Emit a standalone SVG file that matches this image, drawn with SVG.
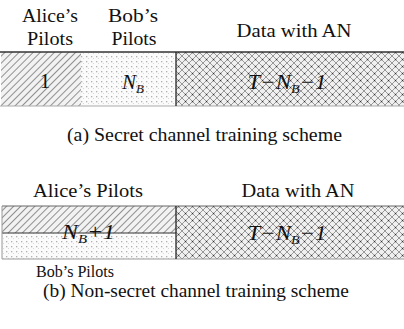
<svg xmlns="http://www.w3.org/2000/svg" width="404" height="329" viewBox="0 0 404 329">
<defs>
<pattern id="hatch" width="5" height="5" patternUnits="userSpaceOnUse" patternTransform="rotate(45)">
<rect width="5" height="5" fill="#f2f2f2"/>
<line x1="0" y1="0" x2="0" y2="5" stroke="#666" stroke-width="1.4"/>
</pattern>
<pattern id="dots" width="5" height="5" patternUnits="userSpaceOnUse">
<rect width="5" height="5" fill="#fbfbfb"/>
<rect x="1" y="1" width="1.3" height="1.3" fill="#b0b0b0"/>
<rect x="3" y="3" width="1" height="1" fill="#d8d8d8"/>
</pattern>
<pattern id="cross" width="7" height="7" patternUnits="userSpaceOnUse">
<rect width="7" height="7" fill="#f0f0f0"/>
<path d="M0,0 L7,7 M7,0 L0,7" stroke="#999" stroke-width="1"/>
<rect x="2.9" y="2.9" width="1.3" height="1.3" fill="#333"/>
</pattern>
<style>
text{font-family:"Liberation Serif","Times New Roman",serif;fill:#111}
.lbl{font-size:19px;text-anchor:middle}
.cap{font-size:18px;text-anchor:middle}
.m{font-size:21px;font-style:italic;text-anchor:middle}
</style>
</defs>
<g id="labels-a">
<text class="lbl" x="50" y="22" textLength="56" lengthAdjust="spacingAndGlyphs">Alice’s</text>
<text class="lbl" x="50" y="45" textLength="46" lengthAdjust="spacingAndGlyphs">Pilots</text>
<text class="lbl" x="133" y="22" textLength="50" lengthAdjust="spacingAndGlyphs">Bob’s</text>
<text class="lbl" x="134" y="45" textLength="45" lengthAdjust="spacingAndGlyphs">Pilots</text>
<text class="lbl" x="294" y="37" textLength="115" lengthAdjust="spacingAndGlyphs">Data with AN</text>
</g>
<g id="a-alice">
<rect x="1" y="52" width="80" height="54" fill="url(#hatch)"/>
<text class="m" x="45" y="88" style="font-style:normal">1</text>
</g>
<g id="a-bob">
<rect x="81" y="52" width="95" height="54" fill="url(#dots)"/>
<text class="m" x="133" y="89">N<tspan font-size="13" dy="4">B</tspan></text>
</g>
<g id="a-data">
<rect x="176" y="52" width="228" height="54" fill="url(#cross)"/>
<text class="m" x="287" y="89" textLength="79" lengthAdjust="spacingAndGlyphs">T−N<tspan font-size="13" dy="4">B</tspan><tspan dy="-4">−1</tspan></text>
</g>
<g id="a-frame">
<line x1="0" y1="52" x2="404" y2="52" stroke="#333" stroke-width="1.6"/>
<line x1="0" y1="106" x2="404" y2="106" stroke="#aaa" stroke-width="1"/>
<line x1="176" y1="52" x2="176" y2="106" stroke="#222" stroke-width="1.3"/>
</g>
<text class="cap" x="204.5" y="141" textLength="275" lengthAdjust="spacingAndGlyphs">(a) Secret channel training scheme</text>
<g id="labels-b">
<text class="lbl" x="88" y="197" textLength="110" lengthAdjust="spacingAndGlyphs">Alice’s Pilots</text>
<text class="lbl" x="298" y="197" textLength="113" lengthAdjust="spacingAndGlyphs">Data with AN</text>
<text class="lbl" x="75" y="277" style="font-size:17px" textLength="78" lengthAdjust="spacingAndGlyphs">Bob’s Pilots</text>
</g>
<g id="b-pilots">
<rect x="2" y="206" width="174" height="27" fill="url(#hatch)"/>
<rect x="2" y="233" width="174" height="26" fill="url(#dots)"/>
<line x1="2" y1="233" x2="176" y2="233" stroke="#333" stroke-width="1"/>
<text class="m" x="88.5" y="239" textLength="53" lengthAdjust="spacingAndGlyphs">N<tspan font-size="13" dy="4">B</tspan><tspan dy="-4">+1</tspan></text>
</g>
<g id="b-data">
<rect x="176" y="206" width="228" height="53" fill="url(#cross)"/>
<text class="m" x="287" y="240" textLength="79" lengthAdjust="spacingAndGlyphs">T−N<tspan font-size="13" dy="4">B</tspan><tspan dy="-4">−1</tspan></text>
</g>
<g id="b-frame">
<line x1="2" y1="206" x2="404" y2="206" stroke="#666" stroke-width="1"/>
<line x1="2" y1="259" x2="404" y2="259" stroke="#999" stroke-width="1"/>
<line x1="2" y1="206" x2="2" y2="259" stroke="#999" stroke-width="1"/>
<line x1="176" y1="206" x2="176" y2="259" stroke="#222" stroke-width="1.3"/>
</g>
<text class="cap" x="196" y="297" textLength="306" lengthAdjust="spacingAndGlyphs">(b) Non-secret channel training scheme</text>
</svg>
